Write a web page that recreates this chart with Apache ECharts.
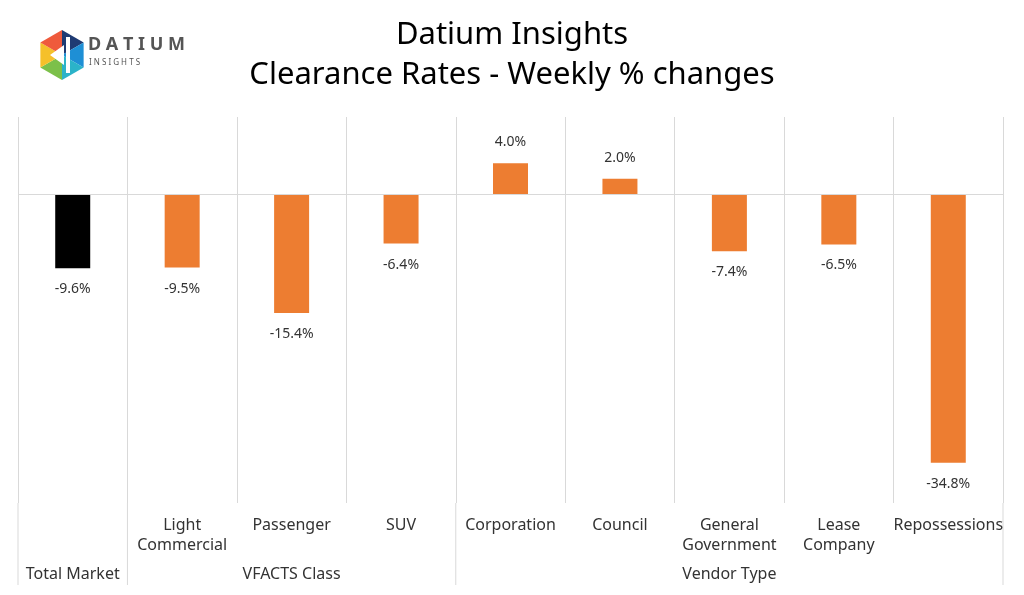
<!DOCTYPE html>
<html>
<head>
<meta charset="UTF-8">
<script src="https://cdn.jsdelivr.net/npm/echarts@6/dist/echarts.min.js"></script>
</head>
<body style="margin:0">
<div id="main" style="width:1024px;height:595px;"></div>
<script>
var categories = ['', 'Light\nCommercial', 'Passenger', 'SUV', 'Corporation', 'Council', 'General\nGovernment', 'Lease\nCompany', 'Repossessions'];
var changes = [-9.6, -9.5, -15.4, -6.4, 4.0, 2.0, -7.4, -6.5, -34.8];
var groups = [['Total Market', 0, 1], ['VFACTS Class', 1, 4], ['Vendor Type', 4, 9]];
var font = 'Noto Sans';

var chart = echarts.init(document.getElementById('main'));
var G = {left: 18, right: 21, top: 117, bottom: 92};
var plotW = 1024 - G.left - G.right;
var band = plotW / categories.length;
var bottomY = 595 - G.bottom;

var graphics = [
  {type: 'text', left: 'center', top: 15, style: {text: 'Datium Insights\nClearance Rates - Weekly % changes', font: '31px ' + font, fill: '#000', textAlign: 'center', lineHeight: 40}},
  {type: 'text', left: 88, top: 36, style: {text: 'D A T I U M', font: 'bold 18px ' + font, fill: '#555'}},
  {type: 'text', left: 89, top: 59, style: {text: 'I N S I G H T S', font: '8px ' + font, fill: '#555'}}
];
// logo hexagon
var cx = 62, cy = 55, r = 25;
var cols = ['#1f3b73', '#1e8fd5', '#2bb3c9', '#7cc04a', '#f5c02a', '#ef5a3c'];
for (var k = 0; k < 6; k++) {
  var a1 = (-90 + k * 60) * Math.PI / 180, a2 = (-30 + k * 60) * Math.PI / 180;
  graphics.push({type: 'polygon', shape: {points: [[cx, cy], [cx + r * Math.cos(a1), cy + r * Math.sin(a1)], [cx + r * Math.cos(a2), cy + r * Math.sin(a2)]]}, style: {fill: cols[k]}});
}
graphics.push({type: 'polygon', shape: {points: [[cx - 12, cy], [cx + 2, cy - 10], [cx + 2, cy + 10]]}, style: {fill: '#fff'}});
graphics.push({type: 'rect', shape: {x: cx + 4, y: cy - 18, width: 4, height: 36}, style: {fill: '#fff'}});

// group separators and labels
[0, 1, 4, 9].forEach(function (i) {
  graphics.push({type: 'line', shape: {x1: G.left + i * band, y1: bottomY, x2: G.left + i * band, y2: 585}, style: {stroke: '#d9d9d9', lineWidth: 1}});
});
groups.forEach(function (g) {
  graphics.push({type: 'text', x: G.left + (g[1] + g[2]) / 2 * band, y: 566, style: {text: g[0], font: '16px ' + font, fill: '#333', textAlign: 'center'}});
});

chart.setOption({
  animation: false,
  grid: G,
  graphic: graphics,
  xAxis: {
    type: 'category', data: categories, position: 'bottom',
    axisLine: {show: false}, axisTick: {show: false},
    splitLine: {show: true, lineStyle: {color: '#d9d9d9'}},
    axisLabel: {interval: 0, margin: 12, fontSize: 16, lineHeight: 20, color: '#333', fontFamily: font, verticalAlign: 'top'}
  },
  yAxis: {type: 'value', min: -40, max: 10, show: false, splitLine: {show: false}},
  series: [{
    type: 'bar', data: changes, barWidth: 35,
    itemStyle: {color: function (p) { return p.dataIndex === 0 ? '#000' : '#ED7D31'; }},
    label: {show: true, position: 'outside', distance: 14, fontSize: 14, color: '#333', fontFamily: font,
      formatter: function (p) { return p.value.toFixed(1) + '%'; }},
    markLine: {silent: true, symbol: 'none', label: {show: false}, lineStyle: {color: '#d9d9d9', type: 'solid', width: 1}, data: [{yAxis: 0}]}
  }]
});
</script>
</body>
</html>
